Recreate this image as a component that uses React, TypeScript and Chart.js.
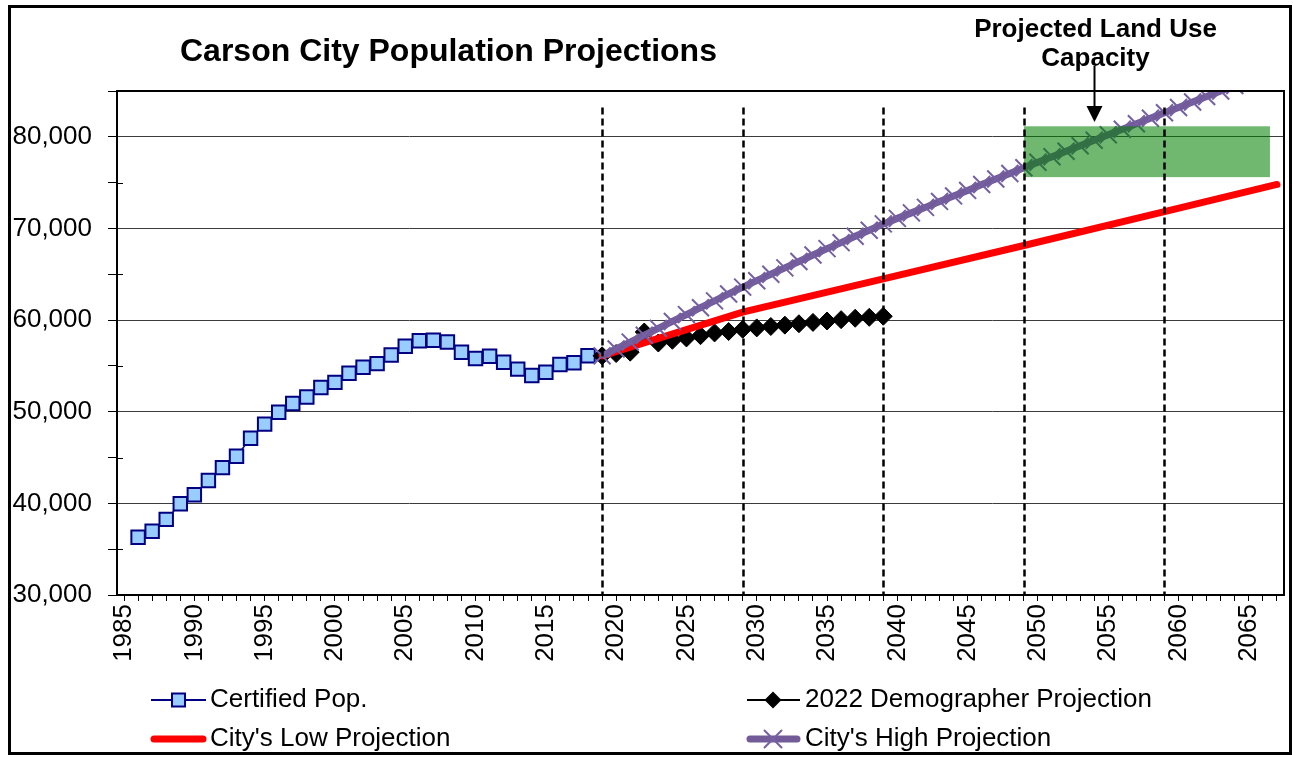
import React, { useEffect, useRef } from 'react';
import { Chart, registerables } from 'chart.js';

Chart.register(...registerables);

const FONT = '"Liberation Sans", Arial, Helvetica, sans-serif';

// ---------- data ----------
const certifiedYears = [
  1986, 1987, 1988, 1989, 1990, 1991, 1992, 1993, 1994, 1995, 1996,
  1997, 1998, 1999, 2000, 2001, 2002, 2003, 2004, 2005, 2006, 2007,
  2008, 2009, 2010, 2011, 2012, 2013, 2014, 2015, 2016, 2017, 2018,
];
const certifiedValues = [
  36300, 36950, 38250, 39950, 40950, 42500, 43900, 45150, 47100, 48650, 49950,
  50900, 51600, 52650, 53200, 54200, 54850, 55250, 56200, 57150, 57750, 57800,
  57600, 56500, 55800, 56050, 55400, 54650, 53950, 54300, 55150, 55350, 56100,
];

const demographerYears = [
  2019, 2020, 2021, 2022, 2023, 2024, 2025, 2026, 2027, 2028, 2029,
  2030, 2031, 2032, 2033, 2034, 2035, 2036, 2037, 2038, 2039,
];
const demographerValues = [
  56100, 56350, 56500, 58700, 57500, 57800, 58050, 58300, 58600, 58750, 59000,
  59150, 59300, 59450, 59600, 59750, 59900, 60050, 60200, 60300, 60420,
];

const lowYears = [2019, 2029, 2039, 2049, 2059, 2067];
const lowValues = [56100, 60870, 64500, 68140, 71830, 74800];

const highYears = [
  2019, 2020, 2021, 2022, 2023, 2024, 2025, 2026, 2027, 2028, 2029,
  2030, 2031, 2032, 2033, 2034, 2035, 2036, 2037, 2038, 2039,
  2040, 2041, 2042, 2043, 2044, 2045, 2046, 2047, 2048, 2049,
  2050, 2051, 2052, 2053, 2054, 2055, 2056, 2057, 2058, 2059,
  2060, 2061, 2062, 2063, 2064,
];
const highValues = [
  56100, 56850, 57600, 58350, 59100, 59850, 60600, 61350, 62100, 62850, 63600,
  64300, 65000, 65700, 66400, 67100, 67800, 68450, 69150, 69800, 70500,
  71100, 71700, 72300, 72950, 73550, 74150, 74800, 75400, 76000, 76620,
  77220, 77820, 78420, 79020, 79620, 80220, 80820, 81420, 82020, 82620,
  83200, 83800, 84400, 85000, 85600,
];

const xLabelYears = [1985, 1990, 1995, 2000, 2005, 2010, 2015, 2020, 2025, 2030, 2035, 2040, 2045, 2050, 2055, 2060, 2065];
const xFirstYear = 1985;
const xLastYear = 2067;
const dividerYears = [2019, 2029, 2039, 2049, 2059];
const capacityYears = [2049, 2066.5];
const capacityRange = [75600, 81150];
const arrowYear = 2054;

const TITLE = 'Carson City Population Projections';
const NOTE_LINES = ['Projected Land Use', 'Capacity'];
const LEGEND_LABELS = ['Certified Pop.', '2022 Demographer Projection', "City's Low Projection", "City's High Projection"];

const NAVY = '#000080';
const LIGHT_BLUE = '#99CCFF';
const RED = '#FF0000';
const PURPLE = '#735A98';
const PURPLE_MARK = '#7460A2';

const toPoints = (xs: number[], ys: number[]) => xs.map((x, i) => ({ x, y: ys[i] }));

function drawSquare(ctx: CanvasRenderingContext2D, x: number, y: number, s: number) {
  ctx.save();
  ctx.fillStyle = LIGHT_BLUE;
  ctx.strokeStyle = NAVY;
  ctx.lineWidth = 2;
  ctx.fillRect(x - s / 2, y - s / 2, s, s);
  ctx.strokeRect(x - s / 2, y - s / 2, s, s);
  ctx.restore();
}
function drawDiamond(ctx: CanvasRenderingContext2D, x: number, y: number, r: number) {
  ctx.save();
  ctx.fillStyle = '#000';
  ctx.beginPath();
  ctx.moveTo(x, y - r);
  ctx.lineTo(x + r, y);
  ctx.lineTo(x, y + r);
  ctx.lineTo(x - r, y);
  ctx.closePath();
  ctx.fill();
  ctx.restore();
}
function drawX(ctx: CanvasRenderingContext2D, x: number, y: number, r: number) {
  ctx.save();
  ctx.strokeStyle = PURPLE_MARK;
  ctx.lineWidth = 2;
  const d = r * Math.SQRT1_2;
  ctx.beginPath();
  ctx.moveTo(x - d, y - d);
  ctx.lineTo(x + d, y + d);
  ctx.moveTo(x + d, y - d);
  ctx.lineTo(x - d, y + d);
  ctx.stroke();
  ctx.restore();
}

const decorPlugin = {
  id: 'decor',
  afterDatasetsDraw(chart: any) {
    const { ctx, chartArea, scales } = chart;
    const xs = scales.x;
    const ys = scales.y;
    ctx.save();
    // capacity box
    const bx0 = xs.getPixelForValue(capacityYears[0]);
    const bx1 = xs.getPixelForValue(capacityYears[1]);
    const by0 = ys.getPixelForValue(capacityRange[1]);
    const by1 = ys.getPixelForValue(capacityRange[0]);
    ctx.fillStyle = 'rgba(0,128,0,0.56)';
    ctx.fillRect(bx0, by0, bx1 - bx0, by1 - by0);
    // dashed dividers
    ctx.strokeStyle = '#000';
    ctx.lineWidth = 2.5;
    ctx.setLineDash([7, 4]);
    const top = ys.getPixelForValue(83200);
    dividerYears.forEach((yr) => {
      const px = Math.round(xs.getPixelForValue(yr)) + 0.5;
      ctx.beginPath();
      ctx.moveTo(px, top);
      ctx.lineTo(px, chartArea.bottom);
      ctx.stroke();
    });
    ctx.setLineDash([]);
    // frame top/right
    ctx.lineWidth = 2;
    ctx.beginPath();
    ctx.moveTo(chartArea.left, chartArea.top);
    ctx.lineTo(chartArea.right, chartArea.top);
    ctx.lineTo(chartArea.right, chartArea.bottom);
    ctx.stroke();
    // minor y ticks crossing into plot
    ctx.lineWidth = 1;
    for (let v = 35000; v < 85000; v += 10000) {
      const py = Math.round(ys.getPixelForValue(v)) + 0.5;
      ctx.beginPath();
      ctx.moveTo(chartArea.left, py);
      ctx.lineTo(chartArea.left + 6, py);
      ctx.stroke();
    }
    ctx.restore();
  },
  afterDraw(chart: any) {
    const { ctx, scales } = chart;
    const xs = scales.x;
    ctx.save();
    // outer border
    ctx.strokeStyle = '#000';
    ctx.lineWidth = 3;
    ctx.strokeRect(9.5, 6.5, 1281, 747);
    // title
    ctx.fillStyle = '#000';
    ctx.font = `bold 32px ${FONT}`;
    ctx.textAlign = 'left';
    ctx.textBaseline = 'alphabetic';
    ctx.fillText(TITLE, 180, 61);
    // note
    const ax = Math.round(xs.getPixelForValue(arrowYear)) + 0.5;
    ctx.font = `bold 26px ${FONT}`;
    ctx.textAlign = 'center';
    ctx.fillText(NOTE_LINES[0], ax + 1, 37);
    ctx.fillText(NOTE_LINES[1], ax + 1, 66);
    // arrow
    ctx.lineWidth = 2;
    ctx.beginPath();
    ctx.moveTo(ax, 66);
    ctx.lineTo(ax, 108);
    ctx.stroke();
    ctx.beginPath();
    ctx.moveTo(ax - 8, 106);
    ctx.lineTo(ax + 8, 106);
    ctx.lineTo(ax, 122);
    ctx.closePath();
    ctx.fill();
    // legend
    ctx.font = `26px ${FONT}`;
    ctx.textAlign = 'left';
    ctx.textBaseline = 'middle';
    const r1 = 700;
    const r2 = 739;
    // certified
    ctx.strokeStyle = NAVY;
    ctx.lineWidth = 2;
    ctx.beginPath();
    ctx.moveTo(151, r1);
    ctx.lineTo(206, r1);
    ctx.stroke();
    drawSquare(ctx, 178.5, r1, 13);
    ctx.fillStyle = '#000';
    ctx.fillText(LEGEND_LABELS[0], 210, r1);
    // low
    ctx.strokeStyle = RED;
    ctx.lineWidth = 7;
    ctx.lineCap = 'round';
    ctx.beginPath();
    ctx.moveTo(154, r2);
    ctx.lineTo(203, r2);
    ctx.stroke();
    ctx.fillText(LEGEND_LABELS[2], 210, r2);
    // demographer
    ctx.lineCap = 'butt';
    ctx.strokeStyle = '#000';
    ctx.lineWidth = 2;
    ctx.beginPath();
    ctx.moveTo(747, r1);
    ctx.lineTo(800, r1);
    ctx.stroke();
    drawDiamond(ctx, 773, r1, 8.5);
    ctx.fillText(LEGEND_LABELS[1], 805, r1);
    // high
    ctx.strokeStyle = PURPLE;
    ctx.lineWidth = 7;
    ctx.lineCap = 'round';
    ctx.beginPath();
    ctx.moveTo(750, r2);
    ctx.lineTo(797, r2);
    ctx.stroke();
    drawX(ctx, 773, r2, 12);
    ctx.fillText(LEGEND_LABELS[3], 805, r2);
    ctx.restore();
  },
};

export default function App() {
  const ref = useRef<HTMLCanvasElement | null>(null);

  useEffect(() => {
    if (!ref.current) return;
    const allYears: number[] = [];
    for (let y = xFirstYear; y <= xLastYear; y++) allYears.push(y);

    const chart = new Chart(ref.current, {
      type: 'line',
      data: {
        datasets: [
          {
            label: LEGEND_LABELS[3],
            data: toPoints(highYears, highValues),
            borderColor: PURPLE,
            backgroundColor: PURPLE,
            borderWidth: 7,
            pointStyle: 'crossRot',
            pointRadius: 12,
            pointBorderColor: PURPLE_MARK,
            pointBorderWidth: 2,
            tension: 0,
            order: 0,
            clip: 0,
          },
          {
            label: LEGEND_LABELS[2],
            data: toPoints(lowYears, lowValues),
            borderColor: RED,
            backgroundColor: RED,
            borderWidth: 7,
            borderCapStyle: 'round',
            pointRadius: 0,
            tension: 0,
            order: 1,
          },
          {
            label: LEGEND_LABELS[1],
            data: toPoints(demographerYears, demographerValues),
            borderColor: '#000',
            backgroundColor: '#000',
            borderWidth: 2,
            pointStyle: 'rectRot',
            pointRadius: 9,
            pointBackgroundColor: '#000',
            pointBorderColor: '#000',
            pointBorderWidth: 1,
            tension: 0,
            order: 2,
          },
          {
            label: LEGEND_LABELS[0],
            data: toPoints(certifiedYears, certifiedValues),
            borderColor: NAVY,
            backgroundColor: LIGHT_BLUE,
            borderWidth: 1.5,
            pointStyle: 'rect',
            pointRadius: 9.5,
            pointBackgroundColor: LIGHT_BLUE,
            pointBorderColor: NAVY,
            pointBorderWidth: 2,
            tension: 0,
            order: 3,
          },
        ],
      },
      options: {
        animation: false,
        responsive: false,
        events: [],
        layout: { autoPadding: false, padding: { left: 0, top: 91, right: 9, bottom: 0 } },
        plugins: {
          legend: { display: false },
          tooltip: { enabled: false },
          title: { display: false },
        },
        scales: {
          x: {
            type: 'linear',
            min: xFirstYear - 0.5,
            max: xLastYear + 0.5,
            afterBuildTicks: (axis: any) => {
              axis.ticks = allYears.map((v) => ({ value: v }));
            },
            afterFit: (axis: any) => {
              axis.height = 162;
              axis.paddingLeft = 0;
              axis.paddingRight = 0;
            },
            ticks: {
              autoSkip: false,
              minRotation: 90,
              maxRotation: 90,
              padding: 3,
              color: '#000',
              font: { family: FONT, size: 26 },
              callback: (v: any) => (xLabelYears.includes(Number(v)) ? String(v) : ''),
            },
            grid: { drawOnChartArea: false, drawTicks: true, tickLength: 6, color: '#000', lineWidth: 1 },
            border: { color: '#000', width: 2 },
          },
          y: {
            type: 'linear',
            min: 30000,
            max: 85000,
            afterFit: (axis: any) => {
              axis.width = 117;
              axis.paddingTop = 0;
              axis.paddingBottom = 0;
            },
            ticks: {
              stepSize: 5000,
              padding: 16,
              color: '#000',
              font: { family: FONT, size: 26 },
              callback: (v: any) => (Number(v) % 10000 === 0 ? Number(v).toLocaleString('en-US') : ''),
            },
            grid: {
              color: (c: any) => (c.tick && c.tick.value % 10000 === 0 ? '#3c3c3c' : 'rgba(0,0,0,0)'),
              tickColor: '#000',
              tickLength: 9,
              lineWidth: 1,
            },
            border: { color: '#000', width: 2 },
          },
        },
      } as any,
      plugins: [decorPlugin],
    } as any);

    return () => chart.destroy();
  }, []);

  return (
    <div style={{ position: 'absolute', left: 0, top: 0, width: 1293, height: 757, background: '#fff' }}>
      <canvas ref={ref} width={1293} height={757} style={{ display: 'block' }} />
    </div>
  );
}
